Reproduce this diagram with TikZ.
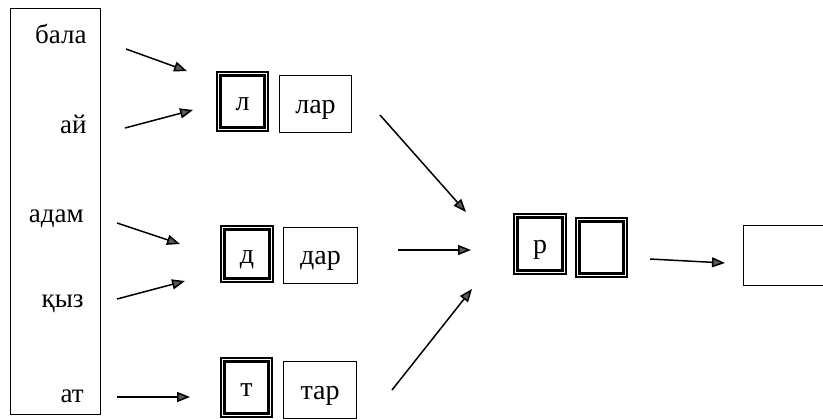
\documentclass[tikz,border=0pt]{standalone}
\usepackage{fontspec}
\setmainfont{Liberation Serif}
\usetikzlibrary{arrows.meta}
\tikzset{
  word/.style={anchor=base east, inner sep=0pt, font=\fontsize{13.5}{16}\selectfont},
  boxtext/.style={inner sep=0pt, font=\fontsize{14}{17}\selectfont, text height=9pt, text depth=0pt},
  dbox/.style={boxtext, draw, line width=1.15pt, double=white, double distance=0.55pt},
  sbox/.style={boxtext, draw, line width=0.7pt},
  arr/.style={line width=0.75pt, -{Triangle[length=6.5pt, width=5pt, fill=black!65]}},
}
\begin{document}
\begin{tikzpicture}[x=0.5pt, y=-0.5pt]
\useasboundingbox (0,0) rectangle (823,419);
% left column
\node[sbox, minimum width=44.8pt, minimum height=202.8pt] (col) at (55.5,211.5) {};
\node[word] (w1) at (87,43) {бала};
\node[word] (w2) at (87,133) {ай};
\node[word] (w3) at (84,222) {адам};
\node[word] (w4) at (84,307) {қыз};
\node[word] (w5) at (84,402) {ат};
% suffix boxes
\node[dbox, minimum width=23.7pt, minimum height=27.7pt] (l) at (242.5,101.5) {л};
\node[sbox, minimum width=35.8pt, minimum height=28.3pt] (lar) at (315.5,104) {лар};
\node[dbox, minimum width=24.2pt, minimum height=26.2pt] (d) at (247,254) {д};
\node[sbox, minimum width=36.8pt, minimum height=27.8pt] (dar) at (320.5,255.5) {дар};
\node[dbox, minimum width=23.7pt, minimum height=27.7pt] (t) at (246.5,387.5) {т};
\node[sbox, minimum width=36.3pt, minimum height=28.3pt] (tar) at (320,390) {тар};
\node[dbox, minimum width=24.2pt, minimum height=28.2pt] (r) at (540,244) {р};
\node[dbox, minimum width=23.7pt, minimum height=27.7pt] (e) at (601.5,247.5) {};
\node[sbox, minimum width=63pt, minimum height=30pt] (res) at (806.5,255.5) {};
% arrow end points
\coordinate (a1s) at (126,49);  \coordinate (a1e) at (187,71);
\coordinate (a2s) at (125,128); \coordinate (a2e) at (193,110);
\coordinate (a3s) at (117,223); \coordinate (a3e) at (180,244);
\coordinate (a4s) at (117,299); \coordinate (a4e) at (185,281);
\coordinate (a5s) at (117,397); \coordinate (a5e) at (190,397);
\coordinate (a6s) at (380,115); \coordinate (a6e) at (466,212);
\coordinate (a7s) at (398,250); \coordinate (a7e) at (471,250);
\coordinate (a8s) at (392,390); \coordinate (a8e) at (472,289);
\coordinate (a9s) at (650,259); \coordinate (a9e) at (725,263);
\draw[arr] (a1s) -- (a1e);
\draw[arr] (a2s) -- (a2e);
\draw[arr] (a3s) -- (a3e);
\draw[arr] (a4s) -- (a4e);
\draw[arr] (a5s) -- (a5e);
\draw[arr] (a6s) -- (a6e);
\draw[arr] (a7s) -- (a7e);
\draw[arr] (a8s) -- (a8e);
\draw[arr] (a9s) -- (a9e);
\end{tikzpicture}
\end{document}
